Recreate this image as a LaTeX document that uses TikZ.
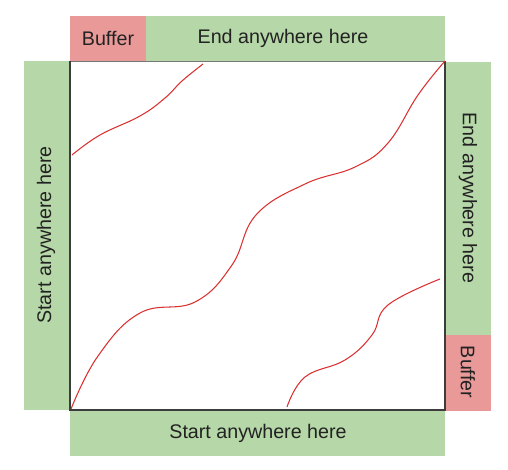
\documentclass[tikz,border=0pt]{standalone}
\usepackage{fontspec}
\setmainfont{Liberation Sans}
\newcommand{\varL}{70}
\newcommand{\varR}{445}
\newcommand{\varT}{61}
\newcommand{\varB}{410}
\newcommand{\varw}{45}
\definecolor{mygreen}{RGB}{182,215,168}
\definecolor{mypink}{RGB}{234,153,153}
\definecolor{mycurve}{RGB}{218,48,48}
\definecolor{mygrey}{RGB}{60,60,60}
\definecolor{mytext}{RGB}{34,34,34}

\begin{document}
\begin{tikzpicture}[x=0.02cm, y=-0.02cm, font=\fontsize{11.2}{13}\selectfont, text=mytext]
	\useasboundingbox (0,0) rectangle (508,470);

	% fillers
	\draw [draw=none, fill=mypink] (\varL,\varT-\varw) rectangle (146,\varT);
	\draw [draw=none, fill=mygreen] (146,\varT-\varw) rectangle (\varR,\varT);
	\draw [draw=none, fill=mygreen] (\varL-\varw-1,\varT) rectangle (\varL-1,\varB);
	\draw [draw=none, fill=mygreen] (\varR+1,\varT+1) rectangle (\varR+\varw+1,335);
	\draw [draw=none, fill=mypink] (\varR+1,335) rectangle (\varR+\varw+1,\varB+1);
	\draw [draw=none, fill=mygreen] (\varL,\varB+1) rectangle (\varR,\varB+\varw+1);

	% lines
	\draw [mygrey!70] (\varL,\varT) -- (\varR,\varT);
	\draw [mygrey, thick] (\varL,\varT) -- (\varL,\varB) -- (\varR,\varB) -- (\varR,\varT);

	% paths
	\draw [mycurve, line width=0.6pt] plot [smooth, tension=0.7] coordinates
		{(72,155) (100,135) (140,116) (165,98) (182,81) (203,64)};
	\draw [mycurve, line width=0.6pt] plot [smooth, tension=0.7] coordinates
		{(71,409) (98,356) (140,313) (195,302) (232,265) (256,215) (305,184)
		(355,167) (388,143) (418,95) (445,61)};
	\draw [mycurve, line width=0.6pt] plot [smooth, tension=0.7] coordinates
		{(287,407) (305,377) (345,360) (372,335) (388,305) (440,279)};

	% captions
	\node (buftop) at (108,38) {Buffer};
	\node (endtop) at (283,38) {End anywhere here};
	\node (startleft) [rotate=90] at (46,235) {Start anywhere here};
	\node (endright) [rotate=-90] at (468,198) {End anywhere here};
	\node (bufright) [rotate=-90] at (468,372) {Buffer};
	\node (startbot) at (258,433) {Start anywhere here};
\end{tikzpicture}
\end{document}
